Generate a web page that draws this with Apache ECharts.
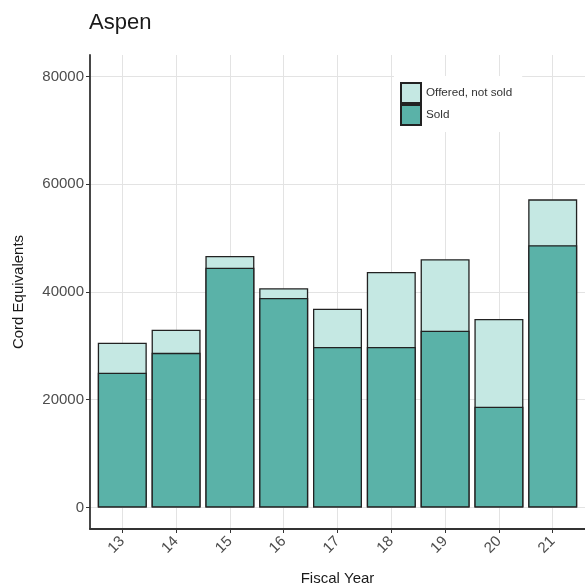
<!DOCTYPE html>
<html>
<head>
<meta charset="utf-8">
<script src="https://cdn.jsdelivr.net/npm/echarts@6/dist/echarts.min.js"></script>
<style>html,body{margin:0;padding:0;background:#fff;}#c{width:585px;height:588px;}</style>
</head>
<body>
<div id="c"></div>
<script>
const categories = ['13','14','15','16','17','18','19','20','21'];
const soldValues = [25000, 28700, 44500, 38900, 29800, 29800, 32800, 18700, 48700];
const offeredValues = [5600, 4300, 2200, 1800, 7100, 13900, 13300, 16300, 8500];
const yTicks = [0, 20000, 40000, 60000, 80000];

const idx = categories.map((c, i) => i);
// total offered (sold + offered, not sold) drawn behind the sold bars
const totalValues = soldValues.map((v, i) => v + offeredValues[i]);
const font = 'Liberation Sans, Arial, sans-serif';
const chart = echarts.init(document.getElementById('c'), null, {renderer: 'canvas'});
chart.setOption({
  animation: false,
  backgroundColor: '#fff',
  title: {text: 'Aspen', left: 84, top: 7, textStyle: {fontFamily: font, fontSize: 22, fontWeight: 'normal', color: '#1a1a1a'}},
  legend: {
    orient: 'vertical', left: 394, top: 76, padding: [6, 10, 6, 6],
    backgroundColor: '#fff', itemWidth: 20, itemHeight: 20, itemGap: 0, icon: 'rect',
    data: ['Offered, not sold', 'Sold'],
    textStyle: {fontFamily: font, fontSize: 11.7, color: '#333'}
  },
  grid: {left: 90, right: 0, top: 55, bottom: 59, outerBoundsMode: 'none', containLabel: false},
  xAxis: {
    type: 'value', min: -0.6, max: 8.6,
    name: 'Fiscal Year', nameLocation: 'middle', nameGap: 42,
    nameTextStyle: {fontFamily: font, fontSize: 15, color: '#1a1a1a'},
    axisLine: {show: true, onZero: false, lineStyle: {color: '#333', width: 1.8}},
    axisTick: {show: true, customValues: idx, length: 4, lineStyle: {color: '#333'}},
    axisLabel: {customValues: idx, rotate: 45, margin: 10, fontFamily: font, fontSize: 15, color: '#4d4d4d',
      formatter: v => categories[Math.round(v)]},
    splitLine: {show: true, lineStyle: {color: '#e3e3e3', width: 1}}
  },
  yAxis: {
    type: 'value', min: -4000, max: 84000,
    name: 'Cord Equivalents', nameLocation: 'middle', nameGap: 64,
    nameTextStyle: {fontFamily: font, fontSize: 15, color: '#1a1a1a'},
    axisLine: {show: true, onZero: false, lineStyle: {color: '#333', width: 1.8}},
    axisTick: {show: true, customValues: yTicks, length: 4, lineStyle: {color: '#333'}},
    axisLabel: {customValues: yTicks, margin: 6, fontFamily: font, fontSize: 15, color: '#4d4d4d',
      formatter: v => String(v)},
    splitLine: {show: true, lineStyle: {color: '#e3e3e3', width: 1}}
  },
  series: [
    {name: 'Offered, not sold', type: 'bar', barWidth: 49, barGap: '-100%',
     itemStyle: {color: '#c5e8e3', borderColor: '#222', borderWidth: 1.3},
     data: totalValues.map((v, i) => [idx[i], v])},
    {name: 'Sold', type: 'bar', barWidth: 49, barGap: '-100%',
     itemStyle: {color: '#5ab2a8', borderColor: '#222', borderWidth: 1.3},
     data: soldValues.map((v, i) => [idx[i], v])}
  ]
});
</script>
</body>
</html>
